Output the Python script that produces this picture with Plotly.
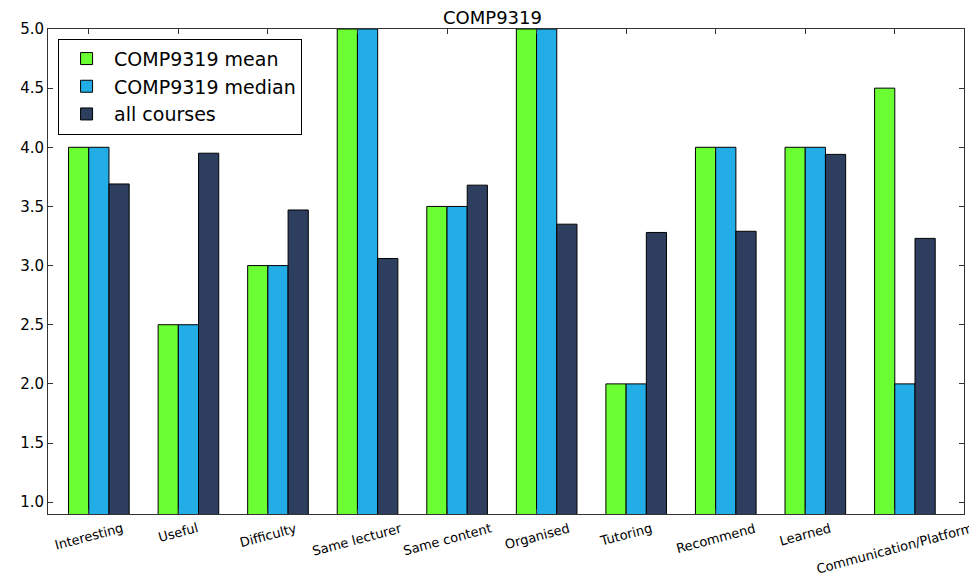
import plotly.graph_objects as go

categories = ["Interesting", "Useful", "Difficulty", "Same lecturer", "Same content",
              "Organised", "Tutoring", "Recommend", "Learned", "Communication/Platform"]
mean_vals = [4.0, 2.5, 3.0, 5.0, 3.5, 5.0, 2.0, 4.0, 4.0, 4.5]
median_vals = [4.0, 2.5, 3.0, 5.0, 3.5, 5.0, 2.0, 4.0, 4.0, 2.0]
all_courses = [3.69, 3.95, 3.47, 3.06, 3.68, 3.35, 3.28, 3.29, 3.94, 3.23]
y_ticks = [1.0, 1.5, 2.0, 2.5, 3.0, 3.5, 4.0, 4.5, 5.0]

series = [
    ("COMP9319 mean", mean_vals, "#6BFF33"),
    ("COMP9319 median", median_vals, "#22ADE6"),
    ("all courses", all_courses, "#2E3E5E"),
]

positions = list(range(len(categories)))
group_width = 0.677
bar_w = group_width / 3
# category ticks sit at the left edge of the middle bar (as in the original)
tick_pos = [p - bar_w / 2 for p in positions]

fig = go.Figure()
for name, vals, col in series:
    fig.add_trace(go.Bar(
        x=positions, y=vals, name=name,
        marker=dict(color=col, line=dict(color="black", width=1)),
    ))

font = "DejaVu Sans, Arial, sans-serif"

for tp, c in zip(tick_pos, categories):
    fig.add_annotation(
        x=tp, xref="x", y=0, yref="paper", text=c, showarrow=False,
        textangle=-15, xanchor="center", yanchor="top", yshift=-4,
        font=dict(family=font, size=13, color="black"),
    )

# the page body has an 8px margin, so the figure is sized/offset to compensate
fig.update_layout(
    width=969, height=569,
    margin=dict(l=35, r=12, t=21, b=63),
    paper_bgcolor="white", plot_bgcolor="white",
    barmode="group", bargap=1 - group_width, bargroupgap=0,
    title=dict(text="COMP9319", x=0.5, xanchor="center", y=0.983, yanchor="middle",
               font=dict(family=font, size=18, color="black")),
    font=dict(family=font, color="black"),
    showlegend=True,
    legend=dict(x=0.011, y=0.98, xanchor="left", yanchor="top",
                bordercolor="black", borderwidth=1, bgcolor="white",
                font=dict(family=font, size=19, color="black"),
                tracegroupgap=0, itemwidth=45),
    xaxis=dict(
        range=[-0.568, 9.66], tickvals=tick_pos, showticklabels=False,
        ticks="inside", ticklen=5, tickcolor="#333",
        showline=True, linecolor="#333", linewidth=1, mirror="ticks",
        showgrid=False, zeroline=False,
    ),
    yaxis=dict(
        range=[0.9, 5.0], tickvals=y_ticks,
        ticktext=[f"{v:.1f}" for v in y_ticks],
        ticks="inside", ticklen=5, tickcolor="#333",
        showline=True, linecolor="#333", linewidth=1, mirror="ticks",
        showgrid=False, zeroline=False,
        tickfont=dict(family=font, size=15, color="black"),
    ),
)

fig.write_html("out.html")
